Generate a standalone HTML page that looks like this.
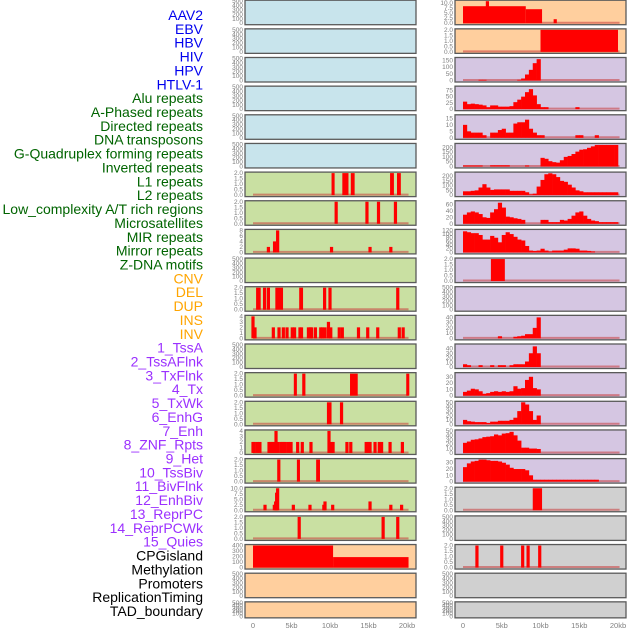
<!DOCTYPE html>
<html><head><meta charset="utf-8"><style>
body{margin:0;background:#fff;}
svg{display:block;font-family:"Liberation Sans",sans-serif;}
</style></head><body>
<svg id="chart" width="630" height="630" viewBox="0 0 630 630"></svg>
<script>
// ---- data ----
const trackLabels = ["AAV2","EBV","HBV","HIV","HPV","HTLV-1","Alu repeats","A-Phased repeats","Directed repeats","DNA transposons","G-Quadruplex forming repeats","Inverted repeats","L1 repeats","L2 repeats","Low_complexity A/T rich regions","Microsatellites","MIR repeats","Mirror repeats","Z-DNA motifs","CNV","DEL","DUP","INS","INV","1_TssA","2_TssAFlnk","3_TxFlnk","4_Tx","5_TxWk","6_EnhG","7_Enh","8_ZNF_Rpts","9_Het","10_TssBiv","11_BivFlnk","12_EnhBiv","13_ReprPC","14_ReprPCWk","15_Quies","CPGisland","Methylation","Promoters","ReplicationTiming","TAD_boundary"];
const labelColors = ["#0000ee","#0000ee","#0000ee","#0000ee","#0000ee","#0000ee","#006400","#006400","#006400","#006400","#006400","#006400","#006400","#006400","#006400","#006400","#006400","#006400","#006400","#ffa500","#ffa500","#ffa500","#ffa500","#ffa500","#9b30ff","#9b30ff","#9b30ff","#9b30ff","#9b30ff","#9b30ff","#9b30ff","#9b30ff","#9b30ff","#9b30ff","#9b30ff","#9b30ff","#9b30ff","#9b30ff","#9b30ff","#000","#000","#000","#000","#000"];
const xTickValues = [0,5,10,15,20];
const xTickLabels = ["0","5kb","10kb","15kb","20kb"];
const ticksEmpty = [0,100,200,300,400,500];
const ticks2 = [0,0.5,1,1.5,2];
const ticks4 = [0,1,2,3,4];
const ticks8 = [0,2,4,6,8];
const ticks10 = [0,2.5,5,7.5,10];

// left column spike/segment series [startKb, endKb, value]
const leftL1 = [[10.2,10.6,2],[11.6,12.4,2],[12.7,13.2,2],[17.8,18.3,2],[18.7,19.2,2]];
const leftL2 = [[10.8,10.8,2],[14.8,14.8,2],[16.3,16.3,2],[18.5,18.5,2]];
const leftR3 = [[2.0,2.0,2],[2.8,2.8,4],[3.2,3.2,8],[10.2,10.2,2],[15.2,15.2,2],[17.9,17.9,2]];
const leftR5 = [[0.4,1.0,2],[1.5,1.5,2],[2.0,2.0,2],[2.9,3.9,2],[6.0,6.5,2],[9.3,9.3,2],[9.9,10.1,2],[18.8,18.8,2]];
const leftR6 = [[0,0,4],[0.26,0.26,2],[2.64,2.64,2],[3.38,3.38,2],[3.94,3.94,2],[4.42,4.42,2],[5.1,5.1,2],[5.4,5.4,2],[6.1,6.1,2],[6.3,6.3,2],[7.2,7.2,2],[7.45,7.45,2],[7.6,7.6,2],[8.1,8.1,2],[8.8,8.8,2],[9.0,9.0,2],[9.35,9.35,2],[9.8,9.8,3],[10.1,10.1,2],[11.2,11.2,2],[11.6,11.6,2],[13.7,13.7,2],[14.9,14.9,2],[16.2,16.2,2],[19.0,19.0,2],[19.5,19.5,2]];
const leftR8 = [[5.3,5.7,2],[6.5,6.7,2],[12.6,13.6,2],[19.9,20.3,2]];
const leftR9 = [[9.6,10.2,2],[11.5,11.5,2]];
const leftR10 = [[0,0,2],[0.17,0.17,2],[0.56,0.56,2],[0.9,0.9,2],[2.08,2.08,2],[2.34,2.34,2],[2.55,2.55,2],[2.77,2.77,2],[2.99,2.99,4],[3.2,3.2,2],[3.6,3.6,2],[3.8,3.8,2],[4.03,4.03,2],[4.2,4.2,2],[4.6,4.6,2],[4.94,4.94,2],[5.8,5.8,2],[6.4,6.4,2],[7.53,7.53,2],[9.87,9.87,4],[10.2,10.2,2],[10.4,10.4,2],[12.2,12.2,2],[12.7,12.7,2],[14.7,14.7,2],[15.0,15.0,2],[15.2,15.2,2],[15.85,15.85,2],[16.4,16.4,2],[16.7,16.7,2],[17.8,17.8,2],[19.4,19.4,2]];
const leftR11 = [[3.2,3.5,2],[5.7,6.1,2],[8.2,8.7,2]];
const leftR12 = [[1.56,1.56,2.5],[2.77,2.77,2.5],[2.94,2.94,4],[3.07,3.07,8],[3.2,3.2,10],[5.24,5.24,2.5],[7.4,7.4,2.5],[9.2,9.2,2.5],[9.35,9.35,4],[10.35,10.35,2.5],[15.2,15.2,4],[17.9,17.9,2.5],[19.3,19.3,2.5]];
const leftR13 = [[6.0,6.0,2],[16.9,16.9,2],[18.8,18.8,2]];
const leftCpg = [[0,10.4,400],[10.4,20.2,190]];

// right column series
const rightAav = [[0,3.0,8.5],[3.0,3.3,11],[3.3,8.1,8.5],[8.1,10.2,7],[11.8,12.0,2]];
const rightHbv = [[10,20,2]];
const rightMirrorSeg = [[3.6,5.4,2]];
const rightBivSeg = [[9.0,10.2,2]];
const rightCpgSpikes = [[1.8,1.8,2],[5.0,5.0,2],[7.7,7.7,2],[8.4,8.4,2],[9.9,9.9,2]];
// binned area series, 0.5kb bins
const binHpv = [0,0,0,0,5,5,0,0,0,0,0,0,0,0,5,15,45,80,130,160];
const binAlu = [30,20,22,20,18,15,8,15,15,10,10,10,12,28,38,50,68,80,55,20,8,8,0,0,0,0,0,0,0,8];
const binAphased = [10,5,4,4,4,2,0,4,4,6,7,4,4,11,12,12,14,7,4,2,2,0,0,0,0,0,0,0,0,2,2,0,0,0,2];
const binGquad = [10,10,10,10,10,0,0,12,12,12,12,12,0,0,0,0,10,0,0,0,90,80,55,45,40,65,100,110,130,155,175,180,195,210,225,225,225,225,225,225];
const binInverted = [40,40,45,50,80,115,80,55,60,60,60,60,45,45,45,45,30,8,15,90,160,220,230,220,190,150,140,110,80,50,40,30,30,30,30,30,30,30,30,30];
const binL2 = [28,35,38,35,30,20,18,35,45,65,50,22,20,17,15,12,0,0,0,0,12,12,5,5,5,12,10,15,25,35,38,25,15,10,8,5,5,5,5,5];
const binMir = [115,110,105,105,95,70,70,90,80,55,95,110,100,85,70,65,35,10,8,10,20,10,5,10,10,10,15,22,22,20,10,10,8,5];
const binIns = [0,0,0,0,0,0,0,0,0,4,0,0,0,3,4,5,8,8,20,40];
const binTssA = [6,4,0,0,4,0,0,4,0,4,4,0,4,6,6,6,12,30,45,30];
const binTssAFlnk = [6,8,11,10,7,3,4,6,7,6,7,6,7,15,11,12,25,30,12,10];
const binTxFlnk = [10,7,6,5,5,5,3,6,6,8,8,8,10,15,30,50,45,30,10,20];
const binTx = [23,26,30,31,33,36,37,38,42,40,44,45,48,40,28,12,12,10,10,9];
const binTxWk = [23,29,32,33,35,35,34,33,33,32,30,27,22,20,20,20,18,10,3,3,3,3,3,3,3,3,3,3,3,3,3,3,3,3,3];

// panel configs: [kind, series, ticks, ymax]
const leftPanels = [
 ["empty",null,ticksEmpty,500],["empty",null,ticksEmpty,500],["empty",null,ticksEmpty,500],
 ["empty",null,ticksEmpty,500],["empty",null,ticksEmpty,500],["empty",null,ticksEmpty,500],
 ["seg",leftL1,ticks2,2],["seg",leftL2,ticks2,2],["seg",leftR3,ticks8,8],["empty",null,ticksEmpty,500],
 ["seg",leftR5,ticks2,2],["seg",leftR6,ticks4,4],["empty",null,ticksEmpty,500],["seg",leftR8,ticks2,2],
 ["seg",leftR9,ticks2,2],["seg",leftR10,ticks4,4],["seg",leftR11,ticks2,2],["seg",leftR12,ticks10,10],
 ["seg",leftR13,ticks2,2],["seg",leftCpg,[0,100,200,300,400],400],["empty",null,ticksEmpty,500],["empty",null,ticksEmpty,500]
];
const rightPanels = [
 ["seg",rightAav,ticks10,11],["seg",rightHbv,ticks2,2],["bin",binHpv,[0,50,100,150],165],["bin",binAlu,[0,25,50,75],88],
 ["bin",binAphased,[0,5,10,15],17],["bin",binGquad,[0,50,100,150,200],230],["bin",binInverted,[0,50,100,150,200],232],
 ["bin",binL2,[0,20,40,60],68],["bin",binMir,[0,20,40,60,80,100,120],120],["seg",rightMirrorSeg,ticks2,2],
 ["empty",null,ticksEmpty,500],["bin",binIns,[0,10,20,30,40],42],["bin",binTssA,[0,10,20,30,40],48],
 ["bin",binTssAFlnk,[0,10,20,30],35],["bin",binTxFlnk,[0,10,20,30,40,50],50],["bin",binTx,[0,10,20,30,40,50],50],
 ["bin",binTxWk,[0,10,20,30],35],["seg",rightBivSeg,ticks2,2],["empty",null,ticksEmpty,500],
 ["seg",rightCpgSpikes,ticks2,2],["empty",null,ticksEmpty,500],["empty",null,ticksEmpty,500]
];
const leftBg = ["#c8e4ec","#c8e4ec","#c8e4ec","#c8e4ec","#c8e4ec","#c8e4ec","#c9e0a2","#c9e0a2","#c9e0a2","#c9e0a2","#c9e0a2","#c9e0a2","#c9e0a2","#c9e0a2","#c9e0a2","#c9e0a2","#c9e0a2","#c9e0a2","#c9e0a2","#ffcf9e","#ffcf9e","#ffcf9e"];
const rightBg = ["#ffcf9e","#ffcf9e","#d5c6e2","#d5c6e2","#d5c6e2","#d5c6e2","#d5c6e2","#d5c6e2","#d5c6e2","#d5c6e2","#d5c6e2","#d5c6e2","#d5c6e2","#d5c6e2","#d5c6e2","#d5c6e2","#d5c6e2","#d0d0d0","#d0d0d0","#d0d0d0","#d0d0d0","#d0d0d0"];

// ---- drawing ----
const NS = "http://www.w3.org/2000/svg";
const svg = document.getElementById("chart");
function mk(tag, attrs, parent){
  const e = document.createElementNS(NS, tag);
  for (const k in attrs) e.setAttribute(k, attrs[k]);
  (parent||svg).appendChild(e);
  return e;
}
const cols = [
  {panelX:245, panelW:171, x0:253, x20:407, panels:leftPanels, bg:leftBg, name:"left"},
  {panelX:455, panelW:171, x0:463, x20:618, panels:rightPanels, bg:rightBg, name:"right"}
];
function rowTop(i){ return i*28.65 + 0.2; }
function rowH(i){ return i===21 ? 16 : 24.5; }

// labels
trackLabels.forEach((t,i)=>{
  const el = mk("text",{x:203,y:15+i*13.86+5,"text-anchor":"end","font-size":"14",fill:labelColors[i]});
  el.textContent = t;
  
  
});

cols.forEach(col=>{
  const xs = kb => col.x0 + (col.x20-col.x0)*kb/20;
  col.panels.forEach((p,i)=>{
    const [kind, series, ticks, ymax] = p;
    const top = rowTop(i), h = rowH(i);
    const g = mk("g",{});
    
    
    const bg = mk("rect",{x:col.panelX,y:top,width:col.panelW,height:h,fill:col.bg[i]},g);
    
    
    const base = top + h - 1.5, ptop = top + 1;
    const ys = v => base - (base-ptop)*v/ymax;
    // ticks
    ticks.forEach(tv=>{
      const tl = mk("text",{x:col.panelX-2,y:ys(tv)+2,"text-anchor":"end","font-size":"6.5",fill:"#808080"},g);
      tl.textContent = (ticks===ticks2||ticks===ticks10) ? tv.toFixed(1) : String(tv);
      
      
    });
    if (kind !== "empty"){
      const bl = mk("line",{x1:xs(0),x2:xs(20.2),y1:base-0.5,y2:base-0.5,stroke:"rgba(200,60,60,0.55)","stroke-width":2},g);
      
      
    }
    if (kind === "seg"){
      series.forEach(s=>{
        let x1 = xs(s[0]), x2 = xs(s[1]);
        if (x2 - x1 < 3){ const c=(x1+x2)/2; x1=c-1.6; x2=c+1.6; }
        const r = mk("rect",{x:x1,y:ys(s[2]),width:x2-x1,height:base-ys(s[2]),fill:"#ff0000"},g);
        
        
      });
    } else if (kind === "bin"){
      series.forEach((v,j)=>{
        if (v<=0) return;
        const x1 = xs(j*0.5), x2 = xs(j*0.5+0.5);
        const r = mk("rect",{x:x1,y:ys(v),width:x2-x1+0.3,height:base-ys(v),fill:"#ff0000"},g);
        
        
      });
    }
    const fr = mk("rect",{x:col.panelX,y:top,width:col.panelW,height:h,fill:"none",stroke:"#5a5a5a","stroke-width":1.3},g);
    
    
  });
  xTickValues.forEach((v,k)=>{
    const t = mk("text",{x:xs(v),y:628,"text-anchor":"middle","font-size":"7.5",fill:"#808080"});
    t.textContent = xTickLabels[k];
    
    
  });
});
</script>
</body></html>
